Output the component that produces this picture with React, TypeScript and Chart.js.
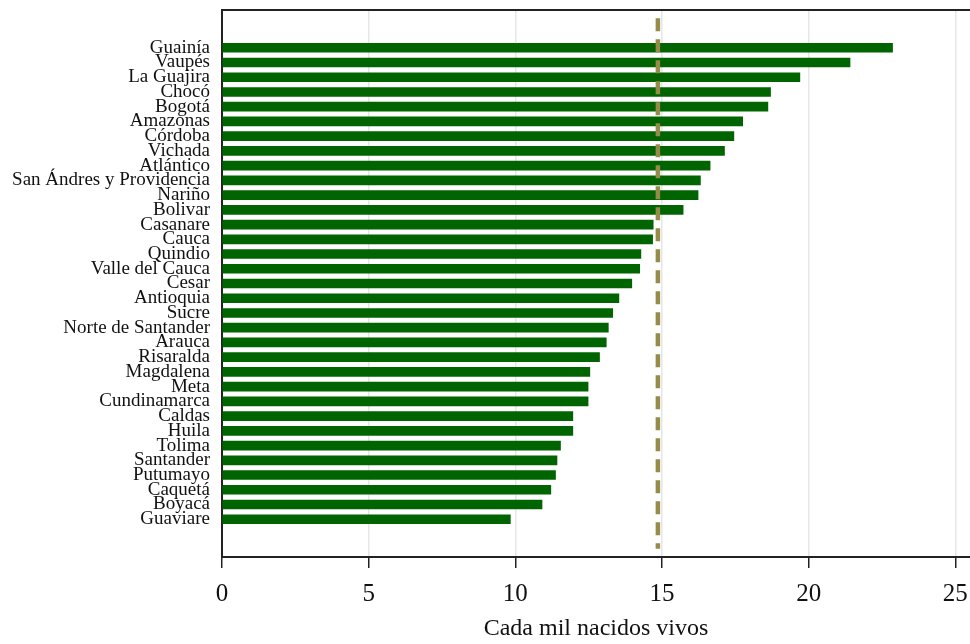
import React, { useEffect, useRef } from "react";
import { Chart, registerables } from "chart.js";

Chart.register(...registerables);

const departments: string[] = [
  "Guainía", "Vaupés", "La Guajira", "Chocó", "Bogotá", "Amazonas", "Córdoba",
  "Vichada", "Atlántico", "San Ándres y Providencia", "Nariño", "Bolivar",
  "Casanare", "Cauca", "Quindio", "Valle del Cauca", "Cesar", "Antioquia",
  "Sucre", "Norte de Santander", "Arauca", "Risaralda", "Magdalena", "Meta",
  "Cundinamarca", "Caldas", "Huila", "Tolima", "Santander", "Putumayo",
  "Caquetá", "Boyacá", "Guaviare",
];

const rates: number[] = [
  22.86, 21.41, 19.7, 18.7, 18.61, 17.75, 17.45, 17.13, 16.64, 16.31, 16.23,
  15.72, 14.7, 14.68, 14.28, 14.24, 13.97, 13.53, 13.32, 13.17, 13.1, 12.87,
  12.54, 12.48, 12.48, 11.96, 11.96, 11.54, 11.42, 11.37, 11.21, 10.91, 9.83,
];

const nationalRate = 14.86;
const xTicks: number[] = [0, 5, 10, 15, 20, 25];
const xTitle = "Cada mil nacidos vivos";

const FONT = "'Liberation Serif', 'Times New Roman', serif";

export default function App() {
  const ref = useRef<HTMLCanvasElement | null>(null);

  useEffect(() => {
    if (!ref.current) return;
    const topBorder = {
      id: "topBorder",
      afterDraw(chart: any) {
        const { ctx, chartArea } = chart;
        ctx.save();
        ctx.strokeStyle = "#222";
        ctx.lineWidth = 2;
        ctx.beginPath();
        ctx.moveTo(chartArea.left - 1, chartArea.top);
        ctx.lineTo(chartArea.right, chartArea.top);
        ctx.stroke();
        ctx.restore();
      },
    };
    const chart = new Chart(ref.current, {
      type: "bar",
      data: {
        datasets: [
          {
            type: "bar",
            data: rates.map((v, i) => ({ x: v, y: i })),
            backgroundColor: "#006400",
            borderWidth: 0,
            barThickness: 9,
            order: 1,
          } as any,
          {
            type: "line",
            data: [
              { x: nationalRate, y: -2 },
              { x: nationalRate, y: departments.length + 1 },
            ],
            borderColor: "#968c4a",
            borderWidth: 4.5,
            borderDash: [13, 8],
            pointRadius: 0,
            fill: false,
            order: 0,
          } as any,
        ],
      },
      options: {
        indexAxis: "y",
        animation: false,
        responsive: false,
        layout: { padding: { top: 10, bottom: 0, left: 0, right: 0 } },
        plugins: { legend: { display: false }, tooltip: { enabled: false } },
        scales: {
          x: {
            type: "linear",
            min: 0,
            max: 25.5,
            afterFit: (s: any) => {
              s.height = 87;
              s.paddingLeft = 0;
              s.paddingRight = 0;
            },
            afterBuildTicks: (s: any) => { s.ticks = xTicks.map((v) => ({ value: v })); },
            ticks: {
              stepSize: 5,
              includeBounds: false,
              color: "#111",
              padding: 11,
              font: { family: FONT, size: 25 },
            },
            grid: {
              color: "#e6e6e6",
              lineWidth: 1.5,
              tickColor: "#222",
              tickLength: 11,
              tickWidth: 1.5,
            },
            border: { display: true, color: "#222", width: 2 },
            title: {
              display: true,
              text: xTitle,
              color: "#111",
              font: { family: FONT, size: 24 },
              padding: { top: 0, bottom: 1 },
            },
          },
          y: {
            type: "linear",
            reverse: true,
            min: -2,
            max: departments.length + 1,
            afterFit: (s: any) => {
              s.width = 222;
              s.paddingTop = 0;
              s.paddingBottom = 0;
            },
            afterBuildTicks: (s: any) => {
              s.ticks = departments.map((_, i) => ({ value: i }));
            },
            ticks: {
              autoSkip: false,
              stepSize: 1,
              maxTicksLimit: 100,
              padding: 12,
              color: "#111",
              font: { family: FONT, size: 19 },
              callback: (v: any) => departments[v as number] ?? "",
            },
            grid: { display: false, drawTicks: false },
            border: { display: true, color: "#222", width: 2 },
          },
        },
      },
      plugins: [topBorder],
    } as any);
    return () => chart.destroy();
  }, []);

  return (
    <div style={{ position: "fixed", left: 0, top: 0, width: 970, height: 644, background: "#fff" }}>
      <canvas ref={ref} width={970} height={644} />
    </div>
  );
}
